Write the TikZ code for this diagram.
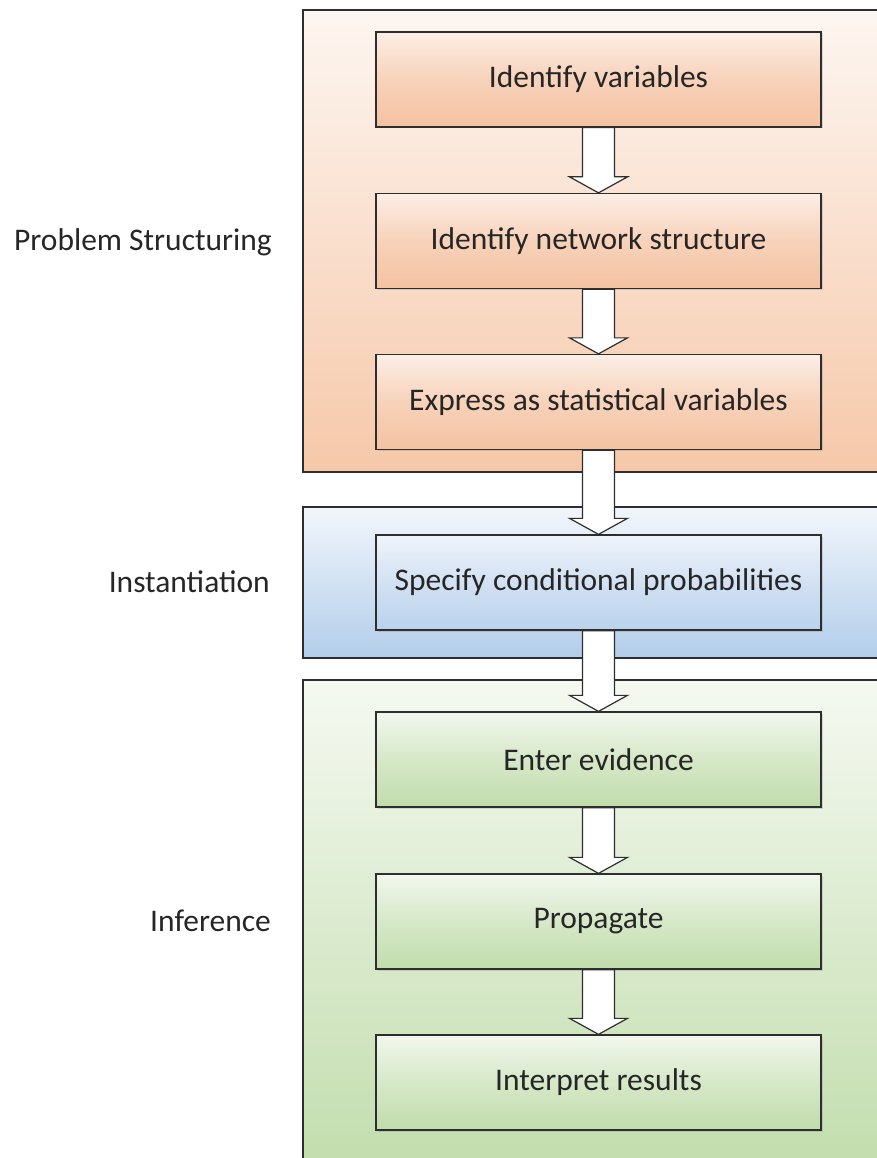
\documentclass[tikz,border=0pt]{standalone}
\usepackage{fontspec}
\setmainfont{Carlito}
\usetikzlibrary{calc,shadows}
\definecolor{lineC}{HTML}{2E2E2E}
\tikzset{
  x=1pt,y=1pt,
  outerbox/.style={draw=lineC,line width=1.3pt},
  innerbox/.style={draw=lineC,line width=1.3pt,minimum width=445pt,minimum height=95pt,
     font=\fontsize{31.5}{34}\selectfont,text=black!85,inner sep=0pt,
     drop shadow={shadow xshift=1.5pt,shadow yshift=-1.5pt,opacity=0.25}},
  orangebox/.style={innerbox,top color=orTop,bottom color=orBot,middle color=orMid},
  bluebox/.style={innerbox,top color=blTop,bottom color=blBot,middle color=blMid},
  greenbox/.style={innerbox,top color=grTop,bottom color=grBot,middle color=grMid},
  phase/.style={font=\fontsize{31.5}{34}\selectfont,text=black!85,anchor=east,inner sep=0pt},
  blockarrow/.style={draw=lineC,line width=1.2pt,fill=white,line join=miter}
}
\definecolor{orTop}{HTML}{FCEEE6}
\definecolor{orMid}{HTML}{F7D2BA}
\definecolor{orBot}{HTML}{F4C2A1}
\definecolor{oTop}{HTML}{FDF6F1}
\definecolor{oBot}{HTML}{F6C8A9}
\definecolor{blTop}{HTML}{EFF4FA}
\definecolor{blMid}{HTML}{D2E1F3}
\definecolor{blBot}{HTML}{BAD2EC}
\definecolor{bTop}{HTML}{F2F6FB}
\definecolor{bBot}{HTML}{B2CDEA}
\definecolor{grTop}{HTML}{F2F7EE}
\definecolor{grMid}{HTML}{D6E8C8}
\definecolor{grBot}{HTML}{C0DCAB}
\definecolor{gTop}{HTML}{F5F9F1}
\definecolor{gBot}{HTML}{C2DDAD}
\newcommand{\blockarr}[2]{%
  \draw[blockarrow] ($(#1.south)+(-16,0)$) -- ($(#2.north)+(-16,16)$) -- ++(-13,0)
    -- (#2.north) -- ($(#2.north)+(29,16)$) -- ++(-13,0) -- ($(#1.south)+(16,0)$) -- cycle;}
\begin{document}
\begin{tikzpicture}
\useasboundingbox (0,0) rectangle (877,-1158);
\clip (0,0) rectangle (877,-1158);
% outer phase boxes
\shade[top color=oTop,bottom color=oBot] (303,-10) rectangle (890,-472);
\draw[outerbox] (890,-10) -- (303,-10) -- (303,-472) -- (890,-472);
\shade[top color=bTop,bottom color=bBot] (303,-507) rectangle (890,-658);
\draw[outerbox] (890,-507) -- (303,-507) -- (303,-658) -- (890,-658);
\shade[top color=gTop,bottom color=gBot] (303,-680) rectangle (890,-1170);
\draw[outerbox] (890,-680) -- (303,-680) -- (303,-1170);
% phase labels
\node[phase] (lps) at (272,-242) {Problem Structuring};
\node[phase] (lin) at (270,-582) {Instantiation};
\node[phase] (lif) at (271,-921) {Inference};
% steps
\node[orangebox] (s1) at (598.5,-79.5) {Identify variables};
\node[orangebox] (s2) at (598.5,-241) {Identify network structure};
\node[orangebox] (s3) at (598.5,-402) {Express as statistical variables};
\node[bluebox]   (s4) at (598.5,-582.5) {Specify conditional probabilities};
\node[greenbox]  (s5) at (598.5,-759.5) {Enter evidence};
\node[greenbox]  (s6) at (598.5,-921.5) {Propagate};
\node[greenbox]  (s7) at (598.5,-1082.5) {Interpret results};
% arrows
\blockarr{s1}{s2}
\blockarr{s2}{s3}
\blockarr{s3}{s4}
\blockarr{s4}{s5}
\blockarr{s5}{s6}
\blockarr{s6}{s7}
\end{tikzpicture}
\end{document}
